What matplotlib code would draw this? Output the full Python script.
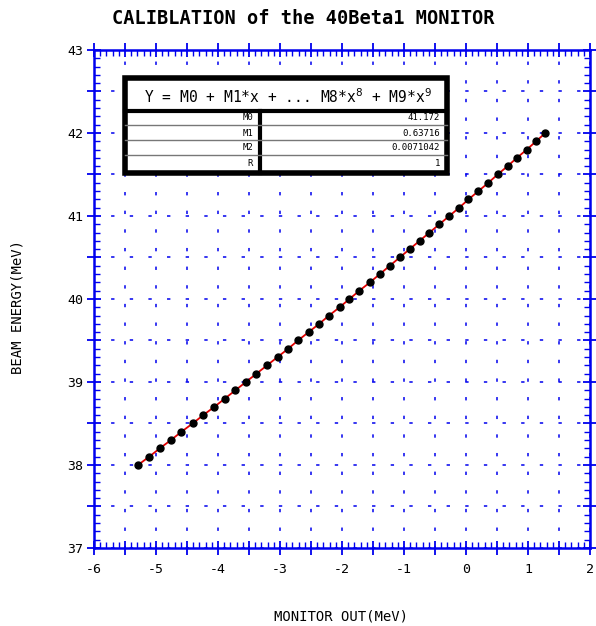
import matplotlib.pyplot as plt
from matplotlib.ticker import MultipleLocator, FuncFormatter
from matplotlib.patches import Rectangle

# calibration points: monitor output vs beam energy
monitor_out = [-5.29, -5.11, -4.94, -4.76, -4.59, -4.41, -4.24, -4.06, -3.89, -3.72,
               -3.55, -3.38, -3.21, -3.04, -2.87, -2.71, -2.54, -2.37, -2.21, -2.04,
               -1.88, -1.72, -1.55, -1.39, -1.23, -1.07, -0.91, -0.75, -0.59, -0.43,
               -0.27, -0.11, 0.04, 0.20, 0.36, 0.51, 0.67, 0.82, 0.98, 1.13, 1.28]
beam_energy = [38.0, 38.1, 38.2, 38.3, 38.4, 38.5, 38.6, 38.7, 38.8, 38.9,
               39.0, 39.1, 39.2, 39.3, 39.4, 39.5, 39.6, 39.7, 39.8, 39.9,
               40.0, 40.1, 40.2, 40.3, 40.4, 40.5, 40.6, 40.7, 40.8, 40.9,
               41.0, 41.1, 41.2, 41.3, 41.4, 41.5, 41.6, 41.7, 41.8, 41.9, 42.0]

coef_names = ['M0', 'M1', 'M2', 'R']
coef_values = ['41.172', '0.63716', '0.0071042', '1']

blue = '#0000ee'
mono = 'DejaVu Sans Mono'

fig = plt.figure(figsize=(5.96, 6.26), dpi=100)
ax = fig.add_axes([94/596, 1-548/626, 496/596, 498/626])

ax.plot(monitor_out, beam_energy, color='#e00000', lw=1.3, zorder=3)
ax.plot(monitor_out, beam_energy, 'o', color='black', ms=5, zorder=4)

ax.set_xlim(-6, 2)
ax.set_ylim(37, 43)

def int_only(v, pos):
    if abs(v - round(v)) < 1e-6:
        return '%d' % round(v)
    return ''

for axis in (ax.xaxis, ax.yaxis):
    axis.set_major_locator(MultipleLocator(0.5))
    axis.set_minor_locator(MultipleLocator(0.1))
    axis.set_major_formatter(FuncFormatter(int_only))

ax.tick_params(which='major', direction='inout', length=10, width=1.3, color=blue,
               top=True, right=True, labelsize=9.5)
ax.tick_params(which='minor', direction='in', length=4, width=1, color=blue,
               top=True, right=True)
ax.tick_params(axis='x', which='major', pad=6)
ax.tick_params(axis='y', which='major', pad=3)
for lab in ax.get_xticklabels() + ax.get_yticklabels():
    lab.set_family(mono)

for sp in ax.spines.values():
    sp.set_color(blue)
    sp.set_linewidth(1.8)

ax.grid(True, which='major', color=blue, lw=1.1, linestyle=(1, (2.2, 10)))
ax.set_axisbelow(True)

# fit result table
x0, x1 = 31/496, 353/496
def fy(py):
    return (548 - py) / 498
xd = (260 - 94) / 496
ax.add_patch(Rectangle((x0, fy(173)), x1 - x0, fy(78) - fy(173), transform=ax.transAxes,
                       facecolor='white', edgecolor='black', lw=4, zorder=5))
ax.plot([x0, x1], [fy(111), fy(111)], color='black', lw=3, transform=ax.transAxes, zorder=6)
ax.plot([xd, xd], [fy(111), fy(173)], color='black', lw=3, transform=ax.transAxes, zorder=6)
for py in [125, 140, 155]:
    ax.plot([x0, x1], [fy(py), fy(py)], color='#777777', lw=1, transform=ax.transAxes, zorder=6)
ax.text((288-94)/496, fy(97), r'Y = M0 + M1*x + ... M8*x$^{8}$ + M9*x$^{9}$',
        transform=ax.transAxes, ha='center', va='center', fontsize=10.5, family=mono, zorder=7)
row_y = [118, 133, 148, 163]
for name, val, py in zip(coef_names, coef_values, row_y):
    ax.text((253-94)/496, fy(py), name, transform=ax.transAxes, ha='right', va='center',
            fontsize=6.5, family=mono, zorder=7)
    ax.text((440-94)/496, fy(py), val, transform=ax.transAxes, ha='right', va='center',
            fontsize=6.5, family=mono, zorder=7)

fig.text(303/596, 1-19/626, 'CALIBLATION of the 40Beta1 MONITOR', ha='center', va='center',
         fontsize=13.4, fontweight='bold', family=mono)
fig.text(341/596, 1-617/626, 'MONITOR OUT(MeV)', ha='center', va='center',
         fontsize=10, family=mono)
fig.text(18/596, 1-307/626, 'BEAM ENERGY(MeV)', ha='center', va='center',
         fontsize=10, family=mono, rotation=90)

fig.savefig('out.png', dpi=100)
